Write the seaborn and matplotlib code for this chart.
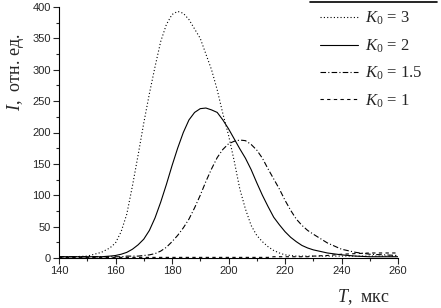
import numpy as np
import pandas as pd
import matplotlib
matplotlib.use("Agg")
import matplotlib.pyplot as plt
from matplotlib.lines import Line2D
from matplotlib.ticker import MultipleLocator
import seaborn as sns

# T, мкс
T = [140, 145, 150, 155,
     158, 160, 162, 164, 166, 168, 170, 172, 174, 176, 178, 180, 182, 184, 186, 188,
     190, 192, 194, 196, 198, 200, 202, 204, 206, 208, 210, 212, 214, 216, 218, 220,
     222, 224, 226, 228, 230,
     235, 240, 245, 250, 255, 260]

I_k3 = [2, 2, 3, 9,
        16, 24, 42, 70, 115, 164, 215, 262, 305, 345, 372, 388, 393, 390, 380, 365,
        350, 325, 300, 268, 230, 196, 155, 110, 78, 52, 36, 26, 18, 12, 8, 5,
        4, 3, 3, 3, 3,
        3, 3, 3, 3, 3, 3]

I_k2 = [2, 2, 2, 2,
        3, 4, 6, 9, 14, 21, 30, 44, 64, 89, 117, 147, 175, 200, 220, 232,
        238, 239, 236, 232, 220, 206, 190, 174, 159, 141, 120, 100, 82, 65, 53, 42,
        33, 26, 20, 16, 13,
        8, 5, 3, 2, 2, 2]

I_k15 = [2, 2, 2, 2,
         2, 2, 2, 3, 3, 3, 4, 5, 7, 11, 17, 26, 36, 48, 62, 80,
         100, 122, 142, 160, 173, 182, 186, 188, 187, 181, 172, 159, 142, 126, 110, 92,
         76, 62, 52, 44, 38,
         24, 14, 9, 6, 5, 4]

I_k1 = [1, 1, 1, 1,
        1, 1, 1, 1, 1, 1, 1, 1, 1, 1, 1, 1, 1, 1, 1, 1,
        1, 1, 1, 1, 1, 1, 1, 1, 1, 1, 1, 1, 1, 2, 2, 2,
        2, 2, 2, 2, 3,
        4, 6, 7, 8, 8, 8]

labels = ["$K_0$ = 3", "$K_0$ = 2", "$K_0$ = 1.5", "$K_0$ = 1"]
series = [I_k3, I_k2, I_k15, I_k1]
styles = [(0, (1, 2)), "-", (0, (5, 2, 1, 2)), (0, (3, 3))]

sns.set_style("ticks")
plt.rcParams["font.family"] = ["Liberation Sans", "DejaVu Sans"]
plt.rcParams["mathtext.fontset"] = "custom"
plt.rcParams["mathtext.rm"] = "Liberation Serif"
plt.rcParams["mathtext.it"] = "Liberation Serif:italic"

fig = plt.figure(figsize=(4.41, 3.08), dpi=100)
ax = fig.add_axes([59 / 441, 1 - 258 / 308, 339 / 441, 251 / 308])

for lab, vals, ls in zip(labels, series, styles):
    sns.lineplot(x=T, y=vals, ax=ax, color="black", linewidth=0.8,
                 linestyle=ls, label=lab)

ax.set_xlim(140, 260)
ax.set_ylim(0, 400)
ax.xaxis.set_major_locator(MultipleLocator(20))
ax.xaxis.set_minor_locator(MultipleLocator(10))
ax.yaxis.set_major_locator(MultipleLocator(50))
ax.yaxis.set_minor_locator(MultipleLocator(25))
ax.tick_params(which="major", direction="out", length=4, width=0.8, labelsize=8, pad=2)
ax.tick_params(which="minor", direction="out", length=2, width=0.8)
for s in ["top", "right"]:
    ax.spines[s].set_visible(False)
for s in ["left", "bottom"]:
    ax.spines[s].set_linewidth(0.8)
    ax.spines[s].set_color("black")

ax.set_xlabel("")
ax.set_ylabel("")
ax.text(364 / 441, 1 - 297 / 308, "$T$,  мкс", transform=fig.transFigure,
        ha="center", va="center", fontsize=13, family=["Liberation Serif", "DejaVu Serif"])
ax.text(16 / 441, 1 - 72 / 308, "$I$,  отн. ед.", transform=fig.transFigure,
        ha="center", va="center", rotation=90, fontsize=13,
        family=["Liberation Serif", "DejaVu Serif"])

leg = ax.legend(loc="upper left", bbox_to_anchor=(320 / 441, 1 - 10 / 308),
                bbox_transform=fig.transFigure, frameon=False, handlelength=2.3,
                handletextpad=0.4, labelspacing=0.6, borderaxespad=0,
                borderpad=0, prop={"family": "Liberation Serif", "size": 12})
fig.add_artist(Line2D([310 / 441, 437 / 441], [1 - 2 / 308, 1 - 2 / 308],
                      color="black", linewidth=1.2, transform=fig.transFigure))

fig.savefig("out.png", dpi=100)
